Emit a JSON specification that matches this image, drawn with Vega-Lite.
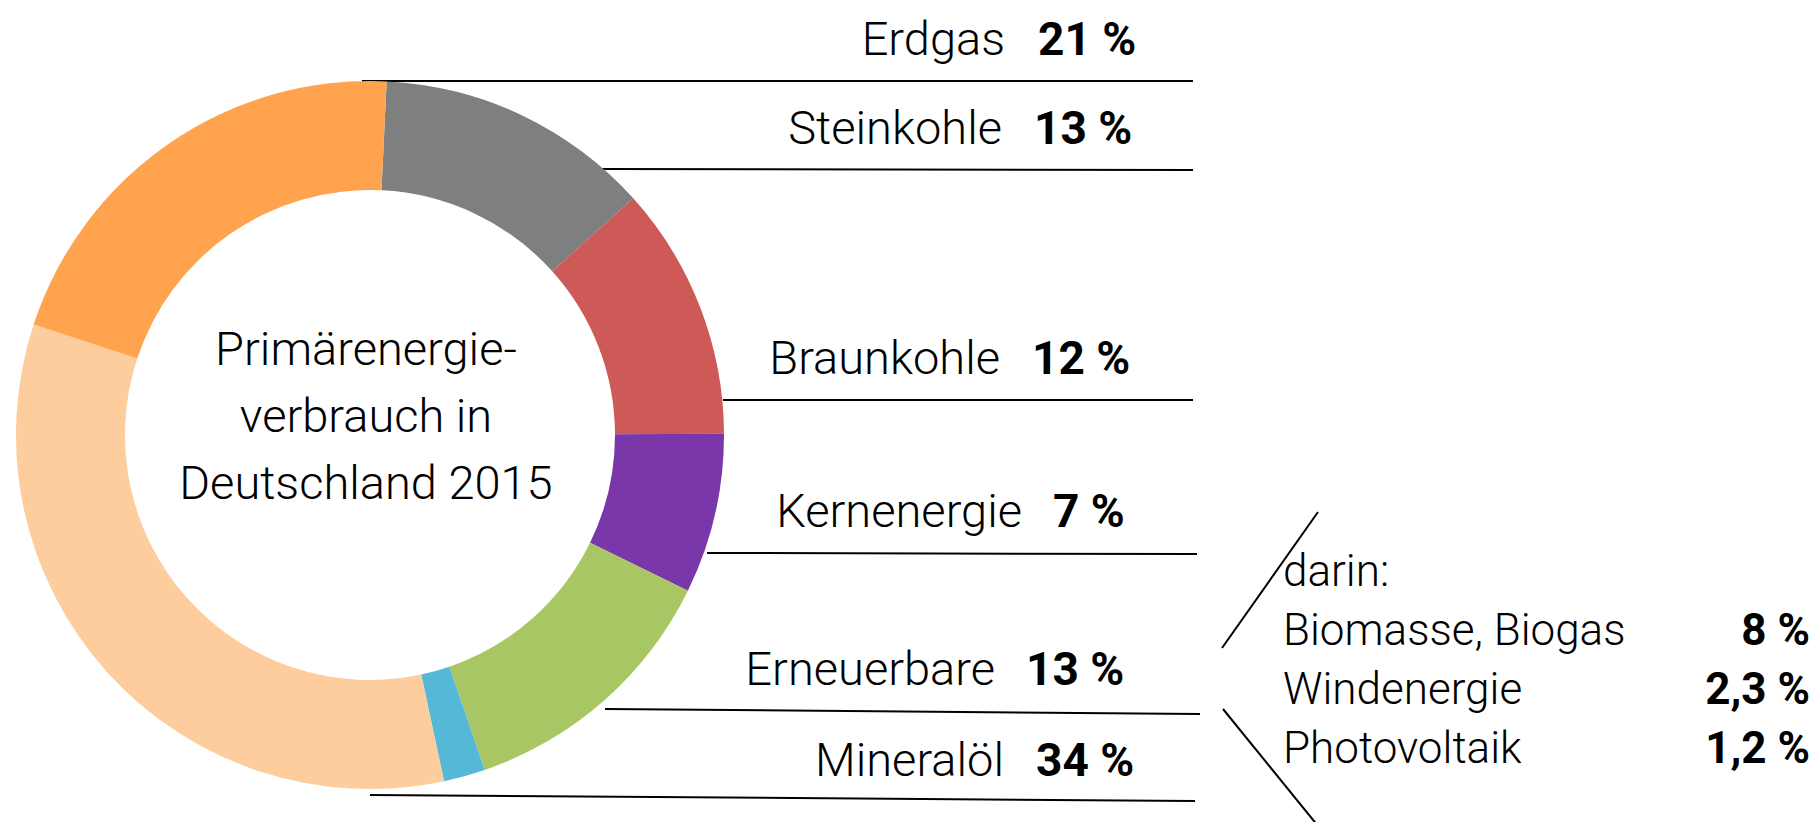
{
  "$schema": "https://vega.github.io/schema/vega-lite/v6.json",
  "width": 1817,
  "height": 822,
  "padding": 0,
  "autosize": {"type": "none"},
  "background": "white",
  "config": {"view": {"stroke": null}, "text": {"font": "Roboto", "color": "black"}},
  "datasets": {
    "slices": [
      {"category": "Steinkohle", "share": 12.6, "order": 1},
      {"category": "Braunkohle", "share": 11.6, "order": 2},
      {"category": "Kernenergie", "share": 7.3, "order": 3},
      {"category": "Erneuerbare", "share": 12.5, "order": 4},
      {"category": "Sonstige", "share": 1.9, "order": 5},
      {"category": "Mineralöl", "share": 33.4, "order": 6},
      {"category": "Erdgas", "share": 20.7, "order": 7}
    ],
    "rules": [
      {"x": 362, "y": 81, "x2": 1193, "y2": 81},
      {"x": 602, "y": 169, "x2": 1193, "y2": 170},
      {"x": 723, "y": 400, "x2": 1193, "y2": 400},
      {"x": 707, "y": 553, "x2": 1197, "y2": 554},
      {"x": 605, "y": 709, "x2": 1200, "y2": 714},
      {"x": 370, "y": 795, "x2": 1195, "y2": 801},
      {"x": 1222, "y": 648, "x2": 1318, "y2": 512},
      {"x": 1223, "y": 709, "x2": 1318, "y2": 826}
    ],
    "center": [
      {"lines": ["Primärenergie-", "verbrauch in", "Deutschland 2015"], "x": 366, "y": 365}
    ],
    "labels": [
      {"name": "Erdgas", "pct": "21 %", "nx": 1005, "px": 1038, "y": 55},
      {"name": "Steinkohle", "pct": "13 %", "nx": 1002, "px": 1034, "y": 144},
      {"name": "Braunkohle", "pct": "12 %", "nx": 1000, "px": 1032, "y": 374},
      {"name": "Kernenergie", "pct": "7 %", "nx": 1022, "px": 1053, "y": 527},
      {"name": "Erneuerbare", "pct": "13 %", "nx": 995, "px": 1026, "y": 685},
      {"name": "Mineralöl", "pct": "34 %", "nx": 1004, "px": 1036, "y": 776}
    ],
    "sub": [
      {"name": "darin:", "pct": "", "y": 586},
      {"name": "Biomasse, Biogas", "pct": "8 %", "y": 645},
      {"name": "Windenergie", "pct": "2,3 %", "y": 704},
      {"name": "Photovoltaik", "pct": "1,2 %", "y": 763}
    ]
  },
  "layer": [
    {
      "data": {"name": "rules"},
      "mark": {"type": "rule", "color": "black", "strokeWidth": 2},
      "encoding": {
        "x": {"field": "x", "type": "quantitative", "scale": {"domain": [0, 1817], "nice": false, "zero": false}, "axis": null},
        "y": {"field": "y", "type": "quantitative", "scale": {"domain": [0, 822], "reverse": true, "nice": false, "zero": false}, "axis": null},
        "x2": {"field": "x2"},
        "y2": {"field": "y2"}
      }
    },
    {
      "data": {"name": "slices"},
      "mark": {"type": "arc", "radius": 354, "radius2": 245, "strokeWidth": 0},
      "encoding": {
        "theta": {"field": "share", "type": "quantitative", "stack": true, "scale": {"range": [0.047, 6.3302]}},
        "order": {"field": "order", "type": "quantitative"},
        "color": {
          "field": "category", "type": "nominal", "legend": null,
          "scale": {
            "domain": ["Steinkohle", "Braunkohle", "Kernenergie", "Erneuerbare", "Sonstige", "Mineralöl", "Erdgas"],
            "range": ["#7f7f7f", "#cd5a57", "#7a37a9", "#a8c764", "#55b8d6", "#fdcd9d", "#ffa34f"]
          }
        },
        "x": {"datum": 370, "type": "quantitative"},
        "y": {"datum": 435, "type": "quantitative"}
      }
    },
    {
      "data": {"name": "center"},
      "mark": {"type": "text", "align": "center", "baseline": "alphabetic", "fontSize": 47, "fontWeight": 300, "lineHeight": 67},
      "encoding": {
        "x": {"field": "x", "type": "quantitative"},
        "y": {"field": "y", "type": "quantitative"},
        "text": {"field": "lines"}
      }
    },
    {
      "data": {"name": "labels"},
      "mark": {"type": "text", "align": "right", "baseline": "alphabetic", "fontSize": 47, "fontWeight": 300},
      "encoding": {
        "x": {"field": "nx", "type": "quantitative"},
        "y": {"field": "y", "type": "quantitative"},
        "text": {"field": "name"}
      }
    },
    {
      "data": {"name": "labels"},
      "mark": {"type": "text", "align": "left", "baseline": "alphabetic", "fontSize": 46, "fontWeight": "bold"},
      "encoding": {
        "x": {"field": "px", "type": "quantitative"},
        "y": {"field": "y", "type": "quantitative"},
        "text": {"field": "pct"}
      }
    },
    {
      "data": {"name": "sub"},
      "mark": {"type": "text", "align": "left", "baseline": "alphabetic", "fontSize": 44, "fontWeight": 300},
      "encoding": {
        "x": {"datum": 1283, "type": "quantitative"},
        "y": {"field": "y", "type": "quantitative"},
        "text": {"field": "name"}
      }
    },
    {
      "data": {"name": "sub"},
      "mark": {"type": "text", "align": "right", "baseline": "alphabetic", "fontSize": 44, "fontWeight": "bold"},
      "encoding": {
        "x": {"datum": 1810, "type": "quantitative"},
        "y": {"field": "y", "type": "quantitative"},
        "text": {"field": "pct"}
      }
    }
  ]
}
